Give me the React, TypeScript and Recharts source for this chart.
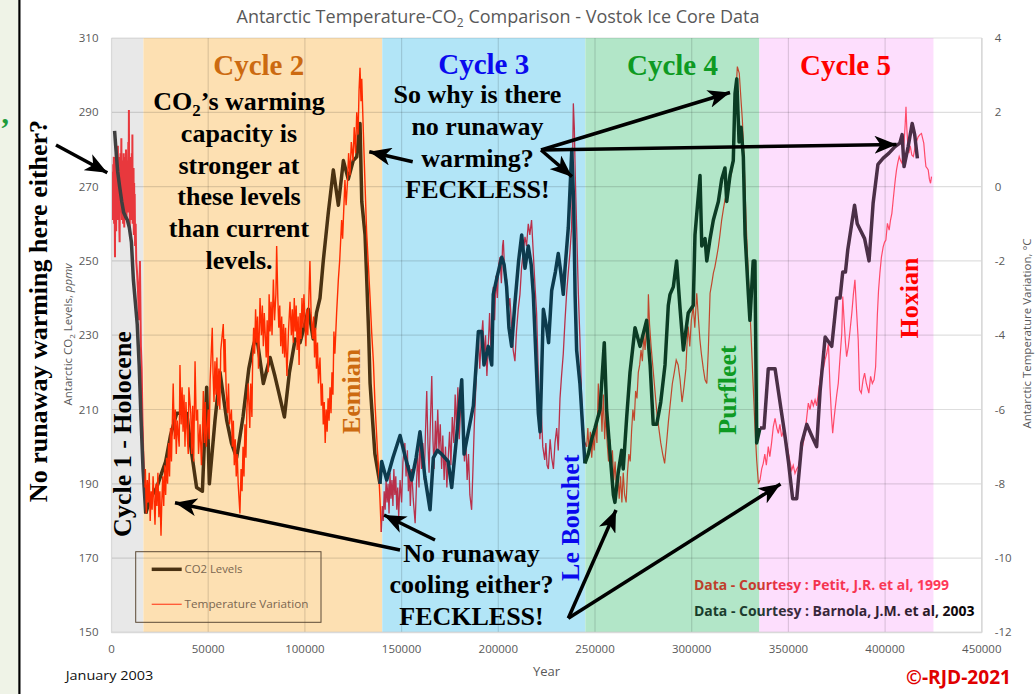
import React from "react";
import { CartesianGrid, ComposedChart, Line, ReferenceArea, XAxis, YAxis } from "recharts";

// years are in thousands of years before present
const xTicks = [0, 50000, 100000, 150000, 200000, 250000, 300000, 350000, 400000, 450000];
const co2Ticks = [150, 170, 190, 210, 230, 250, 270, 290, 310];
const tempTicks = [-12, -10, -8, -6, -4, -2, 0, 2, 4];
const cycleBounds = [0, 16.5, 140, 245, 335, 425];

// CO2, ppmv
const co2Cycle1 = [
  [1.6, 285], [2.3, 280], [3.2, 274], [4.2, 270], [5.3, 266], [6.3, 263], [7.2, 262], [8.2, 261], [9.2, 259],
  [10.3, 255], [11.3, 245], [12.3, 239], [13.3, 233], [14.3, 222], [15.3, 207], [16.3, 194], [17.7, 182]
];
const co2Cycle2 = [
  [17.7, 182], [20, 186], [23.4, 189], [26, 193], [28, 196], [30.5, 203], [33.7, 209], [36, 209], [38.9, 209],
  [41.5, 198], [44, 189], [47, 188], [49.2, 216], [50.6, 190], [53.5, 207], [56.1, 220], [59.6, 207], [62, 201],
  [64.7, 197], [68, 208], [71, 221], [73.3, 227], [75, 230], [78.5, 217], [82, 224], [84.5, 219], [86.3, 215],
  [89.4, 208], [92, 220], [95, 229], [97.5, 228], [100, 233], [101.8, 237], [104.3, 229], [106, 236], [107.8, 240],
  [109.5, 250], [110.5, 255], [112.1, 263], [114.7, 274.5], [117.3, 265], [119.9, 277], [122.4, 272], [125, 277],
  [126.8, 278], [128.5, 287], [129.4, 266], [131.1, 257], [131.9, 246], [133, 230], [133.7, 217], [135.4, 204],
  [136.2, 198], [138.8, 190]
];
const co2Cycle3 = [
  [138.8, 190], [139.7, 196], [142.3, 191], [145.5, 197], [149.2, 203], [152, 197], [155.2, 191], [157.5, 197],
  [159.5, 204], [162, 192], [164.7, 183], [166.4, 197], [168.5, 199], [170.7, 198], [174.1, 196], [175.9, 189],
  [178.5, 203], [181.1, 218], [182.3, 198], [184.5, 204], [187.1, 211], [189.7, 231], [191.4, 231], [192.6, 222],
  [194.8, 227], [196.6, 222], [197.4, 241], [199.5, 246], [201.8, 251], [203, 249], [204.3, 243], [205.5, 232],
  [206.9, 227], [208.5, 238], [210.5, 250], [212.1, 257], [213.8, 248], [215.5, 254], [217, 249], [218.1, 241],
  [219.8, 220], [220.7, 209], [221.6, 204], [223.3, 237], [225, 232], [226, 228], [227.6, 242], [229.5, 247],
  [231, 252], [232.3, 247], [233.6, 241], [234.5, 248], [236.2, 259], [238, 280], [239, 265], [239.7, 241],
  [240.5, 226], [242.2, 217], [244, 202], [244.8, 195.5]
];
const co2Cycle4 = [
  [244.8, 195.5], [246.5, 198], [248.3, 202], [250, 205], [252.6, 210], [254.8, 228], [256, 210], [257.8, 198],
  [259.5, 187], [260.3, 185], [262, 193], [263.8, 199], [264.6, 194], [266.4, 208], [268.1, 220], [270.7, 232],
  [273.3, 227], [276.7, 234], [278.5, 222], [280.1, 206], [281.9, 206], [284, 212], [286.2, 222], [287.9, 238],
  [288.8, 241], [290.5, 243], [292.2, 250], [294, 237], [295.7, 226], [298.2, 236], [300.8, 238], [301.7, 257],
  [304.3, 273], [305.2, 254], [306.9, 256], [307.8, 250], [309.5, 256], [311.2, 261], [313.8, 266], [315.5, 272],
  [317.2, 275], [318.1, 266], [319.8, 273], [321.5, 277], [322.4, 295], [323.3, 299], [324.5, 282], [325.5, 286],
  [326.7, 278], [327.6, 257], [329.3, 241], [330.1, 234], [331.8, 250], [332.7, 250], [333.6, 201], [335.3, 205]
];
const co2Cycle5 = [
  [335.3, 205], [337.4, 205], [339.6, 221], [343.1, 221], [346.5, 209], [348.2, 203], [350, 196], [352.2, 186],
  [354.3, 186], [356.9, 201], [359.5, 206], [362, 203], [364.6, 200], [366.4, 215], [369, 229.5], [372.4, 227],
  [375, 240], [376.7, 240], [378.1, 247], [379.5, 247], [380.7, 253], [384.2, 265], [385.6, 260], [389.4, 256],
  [391.7, 250], [393.8, 265.5], [396.3, 276], [398.9, 277.6], [402, 279], [405, 280.7], [407.6, 281.7],
  [408.8, 284], [409.8, 275.4], [411.9, 280.7], [414, 287], [415.3, 284], [416.7, 277.6]
];

// temperature variation, degrees C
const tempCycle1 = [
  [0.3, 0.2], [0.45, -0.6], [0.6, 0.4], [0.75, -0.9], [0.9, 0.6], [1.05, -0.3], [1.2, 0.8], [1.35, -1.0],
  [1.5, 0.3], [1.65, -0.5], [1.8, -1.9], [1.95, 0.5], [2.1, -0.7], [2.25, 0.9], [2.4, -1.2], [2.55, 0.1],
  [2.7, 0.7], [2.85, -0.8], [3.0, 0.4], [3.15, -0.4], [3.3, 1.1], [3.45, -0.9], [3.6, 0.2], [3.75, -0.6],
  [3.9, 0.8], [4.05, -1.1], [4.2, -1.5], [4.35, 0.5], [4.5, -0.3], [4.65, 0.9], [4.8, -0.7], [4.95, 0.3],
  [5.1, 1.3], [5.25, -0.5], [5.4, -0.9], [5.55, 0.6], [5.7, -0.2], [5.85, 0.7], [6.0, -1.0], [6.15, 0.2],
  [6.3, 0.9], [6.45, -0.6], [6.6, -1.1], [6.75, 0.4], [6.9, -0.3], [7.05, 0.8], [7.2, -0.8], [7.35, 0.3],
  [7.5, 1.0], [7.65, -0.5], [7.8, -0.9], [7.95, 0.6], [8.1, -0.2], [8.25, 0.7], [8.4, -0.7], [8.55, 0.4],
  [8.7, 1.2], [8.85, -0.4], [9.0, 2.06], [9.15, -0.6], [9.3, 0.5], [9.45, -1.1], [9.6, 0.8], [9.75, -0.3],
  [9.9, 0.5], [10.05, -0.9], [10.2, 0.6], [10.35, -0.5], [10.5, 0.9], [10.65, -0.7], [10.8, 1.4], [10.95, -1.0],
  [11.1, 0.3], [11.25, -0.6], [11.4, 0.5], [11.55, -1.3], [11.7, 0.1], [11.85, -0.8], [12.0, -0.2],
  [12.2, -1.6], [12.5, -1.0], [12.8, -2.0], [13.2, -2.3], [13.7, -2.8], [14.2, -3.6], [14.7, -2.0],
  [15.2, -4.3], [15.6, -4.9], [16.0, -6.2], [16.4, -7.1], [16.9, -7.8], [17.3, -8.1]
];
const tempCycle2 = [
  [17.3, -8.1], [17.5, -7.6], [18, -8.8], [18.5, -7.9], [19, -8.5], [19.5, -7.7], [20, -9.0], [20.5, -8.2],
  [21, -8.7], [21.5, -7.8], [22, -8.4], [22.5, -9.1], [23, -8.0], [23.5, -8.6], [24, -7.7], [24.5, -8.9],
  [25, -8.2], [25.6, -9.4], [26, -8.5], [26.5, -7.8], [27, -8.6], [27.5, -7.5], [28, -8.3], [28.5, -7.3],
  [29, -8.0], [29.5, -6.9], [30, -7.8], [30.5, -6.5], [31, -7.4], [31.9, -5.3], [32.5, -6.8], [33, -6.0],
  [33.5, -7.2], [34, -6.3], [35, -7.0], [35.4, -4.8], [36, -6.4], [36.5, -5.4], [37, -6.6], [37.5, -5.6],
  [38, -7.0], [38.5, -5.8], [39, -6.5], [39.7, -7.2], [40, -5.4], [41, -6.1], [41.5, -7.2], [42, -5.9],
  [42.5, -7.4], [43.2, -4.7], [43.8, -6.3], [44.5, -6.0], [45, -7.2], [45.8, -6.4], [46.5, -7.5], [47, -6.6],
  [47.5, -5.5], [48, -6.9], [48.5, -5.8], [49, -7.0], [50, -6.0], [50.5, -6.8], [51, -5.2], [52.1, -3.8],
  [52.5, -5.0], [53, -5.8], [53.5, -4.7], [54, -5.6], [54.5, -4.6], [55, -5.9], [55.5, -4.9], [56, -6.0],
  [56.5, -4.4], [57.8, -3.7], [58.3, -5.0], [58.7, -4.1], [59.3, -5.5], [60, -6.1], [60.5, -5.3], [61, -6.4],
  [62, -6.0], [62.5, -7.0], [63, -6.3], [63.5, -7.5], [64, -6.8], [64.5, -7.8], [65, -7.2], [65.5, -8.0],
  [66.4, -8.8], [67, -7.6], [67.5, -8.2], [68, -7.0], [68.5, -7.8], [69, -6.4], [69.5, -7.3], [70, -6.0],
  [70.7, -5.3], [71.5, -6.5], [72, -5.3], [72.6, -6.2], [73, -4.6], [73.5, -3.8], [74, -4.5], [74.5, -3.3],
  [75, -4.2], [75.5, -3.5], [76, -4.9], [76.8, -3.0], [77.5, -4.0], [78, -3.2], [78.5, -4.3], [79, -3.4],
  [80, -4.6], [80.5, -3.6], [81, -5.0], [81.5, -2.9], [82, -3.9], [82.5, -3.1], [83, -4.0], [83.7, -2.5],
  [84.3, -3.6], [85, -2.9], [85.4, -1.6], [86, -3.0], [86.5, -3.8], [87, -3.2], [87.5, -4.3], [88, -3.5],
  [88.5, -4.5], [89, -3.7], [89.5, -4.6], [90, -3.8], [90.7, -5.1], [91.5, -3.9], [92.3, -3.1], [93, -4.0],
  [93.5, -3.3], [94, -4.2], [94.5, -3.0], [95, -3.9], [95.5, -3.2], [96, -4.4], [96.5, -3.5], [97, -4.8],
  [97.5, -3.4], [98, -4.1], [98.5, -3.0], [99, -3.8], [99.5, -2.9], [100, -3.6], [100.5, -4.3], [101, -3.3],
  [101.5, -4.0], [102, -3.1], [102.6, -2.0], [103.2, -3.4], [104, -4.1], [104.5, -3.5], [105, -4.6],
  [105.5, -3.8], [106, -4.9], [106.5, -4.2], [107, -5.3], [107.8, -4.6], [108.5, -5.9], [109, -5.3],
  [109.5, -6.4], [110, -5.8], [110.5, -6.9], [111, -6.0], [111.5, -6.6], [112, -5.7], [112.5, -6.3],
  [113, -5.4], [113.5, -6.1], [114, -5.0], [114.5, -5.6], [115, -3.9], [115.5, -4.5], [116.4, -3.4],
  [117.3, -2.5], [118, -1.98], [119, -0.9], [119.5, -1.4], [120.7, 0.18], [121.3, -0.5], [122, 0.1],
  [122.6, 0.9], [123.3, 0.3], [124, 1.2], [124.9, 0.7], [125.5, 1.6], [126.2, 0.9], [126.8, 2.0], [127.5, 1.4],
  [128, 2.6], [128.5, 3.2], [129, 2.3], [129.4, 2.9], [130.2, 1.5], [131, 0.2], [131.9, -1.2], [132.8, -2.1],
  [133.7, -3.0], [134.5, -3.9], [135.4, -4.7], [136.2, -5.8], [137, -6.6], [137.5, -7.1], [138, -7.5],
  [138.8, -8.4], [139.5, -9.3]
];
const tempCycle3 = [
  [139.5, -9.3], [140, -8.6], [140.5, -9.0], [141, -8.2], [141.5, -8.7], [142, -7.9], [142.5, -8.5], [143, -8.0],
  [143.5, -8.8], [144, -7.7], [144.5, -8.4], [145, -7.9], [145.5, -8.6], [146, -7.6], [146.5, -8.3], [147, -7.8],
  [147.5, -8.7], [148, -8.1], [148.5, -8.9], [149.2, -7.9], [150, -8.5], [150.7, -7.4], [151.7, -6.9],
  [152.3, -7.8], [153, -7.1], [153.5, -8.2], [154, -7.5], [154.5, -8.6], [155.2, -7.6], [156, -8.4],
  [157, -9.06], [157.7, -8.0], [158.3, -7.2], [159, -8.1], [159.5, -6.8], [160.3, -7.6], [161, -6.9],
  [161.7, -7.9], [162.3, -6.7], [163, -5.5], [163.6, -6.9], [164.2, -7.7], [164.8, -6.5], [165.6, -5.1],
  [166.2, -6.8], [166.8, -7.6], [167.5, -6.3], [168, -7.2], [168.7, -6.0], [169.3, -7.1], [170, -6.4],
  [170.7, -7.6], [171.3, -6.7], [172, -7.9], [172.7, -7.0], [173.4, -8.1], [174.1, -7.3], [174.8, -6.6],
  [175.5, -7.5], [176.2, -6.2], [177, -6.9], [177.7, -5.6], [178.4, -6.5], [179.1, -5.4], [179.8, -6.8],
  [180.5, -6.0], [181.1, -5.2], [181.8, -6.6], [182.5, -7.4], [183.2, -6.8], [183.9, -7.9], [184.6, -7.2],
  [185.3, -8.3], [186.2, -8.7], [186.9, -7.6], [187.6, -6.4], [188.3, -5.5], [189, -4.7], [189.7, -3.95],
  [190.4, -4.9], [191.1, -4.2], [192, -3.6], [192.7, -4.6], [193.4, -4.0], [194.1, -5.1], [194.8, -4.3],
  [195.5, -3.4], [196.2, -4.4], [196.9, -3.2], [197.4, -2.7], [198.1, -3.6], [198.8, -2.4], [199.5, -3.0],
  [200.2, -2.1], [200.9, -1.9], [201.6, -2.6], [202.2, -1.6], [202.6, -1.44], [203.3, -2.3], [204.3, -2.5],
  [205.2, -3.3], [206, -3.0], [206.9, -3.8], [207.7, -4.4], [208.6, -4.7], [209.4, -3.9], [210.3, -3.3],
  [211.2, -2.9], [212, -2.2], [212.8, -1.8], [213.8, -1.35], [214.6, -1.6], [215.5, -1.0], [216.3, -1.3],
  [217.2, -0.9], [218.1, -1.8], [219, -2.7], [219.8, -3.4], [220.4, -4.5], [221, -5.7], [221.5, -6.8],
  [222.2, -6.0], [223, -7.0], [224, -7.36], [224.6, -6.9], [225.2, -7.5], [225.9, -7.6], [226.8, -6.8],
  [227.6, -7.3], [228.5, -7.6], [229.3, -6.9], [230.2, -6.5], [231, -7.1], [231.9, -5.7], [232.7, -5.1],
  [233.6, -4.5], [234.5, -3.6], [235.3, -2.9], [236.2, -2.3], [237, -1.8], [237.9, -1.1], [238.4, 0.5],
  [238.8, 2.24], [239.3, 1.6], [239.8, 0.3], [240.5, -1.1], [241.4, -2.9], [242.2, -4.1], [243.1, -5.7],
  [244, -6.8], [245.7, -7.0]
];
const tempCycle4 = [
  [245.7, -7.0], [246.3, -6.5], [247, -7.2], [247.6, -6.6], [248.3, -7.3], [249, -6.7], [249.6, -7.1],
  [250.3, -6.4], [251, -6.9], [251.7, -5.3], [252.3, -6.2], [253, -5.7], [253.6, -6.6], [254.3, -5.6],
  [255, -6.8], [255.6, -6.1], [256.3, -6.9], [257, -7.4], [257.7, -6.8], [258.4, -7.6], [259, -7.1],
  [259.7, -7.9], [260.4, -7.4], [261.1, -8.2], [261.8, -7.6], [262.5, -8.4], [263.2, -7.8], [263.9, -8.5],
  [264.6, -7.7], [265.3, -8.3], [266.1, -8.5], [266.8, -7.7], [267.5, -7.2], [268.2, -7.4], [268.9, -6.6],
  [269.6, -6.0], [270.3, -6.3], [271, -5.5], [271.7, -5.7], [272.4, -5.0], [273.1, -4.8], [273.8, -4.4],
  [274.5, -4.7], [275.2, -4.0], [275.9, -4.4], [276.6, -3.8], [277.2, -4.2], [277.6, -2.9], [278.2, -3.7],
  [279, -4.3], [280, -4.9], [281, -5.5], [282, -6.1], [283, -6.5], [284, -6.9], [285, -7.2], [286, -7.45],
  [287, -6.9], [288, -6.3], [289, -5.8], [290, -5.3], [291, -5.0], [292, -4.67], [293, -4.8], [294, -5.2],
  [295, -5.8], [296, -5.4], [297, -4.9], [297.6, -4.2], [298.2, -3.77], [299, -4.3], [299.8, -3.6],
  [300.8, -3.23], [301.6, -3.8], [302.6, -2.87], [303.4, -3.5], [304.2, -4.1], [305, -4.5], [306, -4.9],
  [306.9, -5.2], [307.8, -5.3], [308.6, -4.4], [309.5, -2.87], [310.4, -2.6], [311.2, -2.33], [312, -2.16],
  [312.9, -1.9], [313.8, -1.62], [314.6, -1.3], [315.5, -0.9], [316.4, -0.6], [317.2, -0.36], [318.1, -0.18],
  [319.3, 0.0], [319.8, 0.18], [320.7, 0.4], [321.5, 0.72], [322.4, 2.06], [323.6, 3.23], [324.6, 3.05],
  [325.5, 2.33], [326.2, 1.79], [327.1, 0.72], [328.1, -0.9], [329.3, -2.43], [330.5, -3.77], [331.5, -5.0],
  [332.7, -6.46], [333.6, -7.36], [334.5, -8.0], [335.3, -7.9]
];
const tempCycle5 = [
  [335.3, -7.9], [336.2, -7.6], [337, -7.45], [337.8, -7.2], [338.6, -7.5], [339.6, -7.0], [340.4, -7.27],
  [341.3, -6.9], [342.2, -6.46], [343.1, -6.24], [344, -6.5], [344.8, -6.64], [345.6, -6.4], [346.5, -6.73],
  [347.3, -6.6], [348.2, -6.82], [349.1, -6.9], [350, -7.18], [350.8, -7.4], [351.7, -7.63], [352.5, -7.5],
  [353.4, -7.72], [354.3, -7.6], [355.1, -7.54], [356, -7.3], [356.9, -7.09], [357.7, -6.9], [358.6, -6.64],
  [359.5, -6.2], [360.3, -5.83], [361.2, -6.0], [362, -5.74], [362.9, -5.9], [363.8, -5.74], [364.6, -5.9],
  [365.5, -5.56], [366.4, -5.2], [367.2, -4.85], [368.1, -4.9], [368.9, -4.67], [369.8, -4.5], [370.7, -4.22],
  [371.5, -5.38], [372.3, -6.2], [372.9, -6.64], [373.5, -6.3], [374.1, -6.01], [375, -5.6], [375.8, -5.29],
  [376.7, -4.6], [377.6, -3.95], [378.1, -2.96], [378.8, -3.6], [379.5, -4.2], [380.1, -4.58], [381, -4.3],
  [381.9, -3.86], [382.8, -3.4], [383.6, -2.9], [384.4, -2.51], [385.2, -3.3], [386.1, -4.13], [386.8, -5.47],
  [387.7, -5.56], [388.6, -5.2], [389.4, -5.02], [390.3, -5.3], [391.6, -5.56], [392.5, -5.11], [393.4, -5.3],
  [394.3, -5.2], [395.1, -4.85], [396, -3.45], [396.6, -2.8], [397.3, -2.33], [398.1, -1.9], [399, -1.62],
  [399.7, -1.5], [400.4, -1.44], [401.2, -0.99], [402.1, -1.17], [402.8, -0.9], [403.5, -0.72], [404.1, -0.4],
  [404.7, -0.09], [405.3, 0.2], [405.9, 0.45], [406.6, 0.65], [407.3, 0.81], [408, 0.7], [408.7, 0.63],
  [409.3, 0.9], [409.9, 1.25], [410.4, 1.7], [410.8, 2.15], [411.2, 1.6], [411.6, 1.25], [412.3, 0.9],
  [413, 1.1], [413.8, 0.85], [414.6, 0.81], [415.3, 1.0], [415.9, 1.17], [416.5, 1.25], [417.1, 1.34],
  [418, 1.4], [418.8, 1.43], [419.4, 1.3], [420, 1.17], [420.6, 0.8], [421.1, 0.54], [421.7, 0.5],
  [422.3, 0.45], [422.9, 0.2], [423.5, 0.09], [424, 0.27]
];

const bandColors = ["#e8e8e8", "#fde0b2", "#b2e5f7", "#b2e6c8", "#fddefd"];
const co2Colors = ["#3f3f3f", "#4a3212", "#0d3b4e", "#0b3c24", "#4b2f47"];
const tempColors = ["#e8383d", "#ff2b00", "#b9304a", "#c0472c", "#ff4a6a"];
const tempWidths = [2, 1.4, 1.3, 1.2, 1.2];

const co2Series = [co2Cycle1, co2Cycle2, co2Cycle3, co2Cycle4, co2Cycle5];
const tempSeries = [tempCycle1, tempCycle2, tempCycle3, tempCycle4, tempCycle5];

const serif = '"Liberation Serif", "Times New Roman", serif';
const sans = '"Open Sans", "Liberation Sans", sans-serif';
const tickStyle = { fill: "#595959", fontSize: 11.5, fontFamily: sans };

const toRows = (pts: number[][]) => pts.map(([k, v]) => ({ year: k * 1000, value: v }));

function Note({ x, y, lines, color = "#000", size = 26, gap = 31.8 }: { x: number; y: number; lines: React.ReactNode[]; color?: string; size?: number; gap?: number }) {
  return (
    <text x={x} y={y} fill={color} fontFamily={serif} fontWeight="bold" fontSize={size} textAnchor="middle">
      {lines.map((l, i) => (
        <tspan key={i} x={x} y={y + i * gap}>{l}</tspan>
      ))}
    </text>
  );
}

function Vert({ x, y, text, color = "#000", size = 26 }: { x: number; y: number; text: string; color?: string; size?: number }) {
  return (
    <text transform={`translate(${x},${y}) rotate(-90)`} fill={color} fontFamily={serif} fontWeight="bold" fontSize={size} textAnchor="middle">
      {text}
    </text>
  );
}

function Arrow({ x1, y1, x2, y2 }: { x1: number; y1: number; x2: number; y2: number }) {
  return <line x1={x1} y1={y1} x2={x2} y2={y2} stroke="#000" strokeWidth={3.5} markerEnd="url(#ah)" />;
}

function Overlay() {
  return (
    <svg width={1035} height={694} style={{ position: "absolute", left: 0, top: 0, pointerEvents: "none" }}>
      <defs>
        <marker id="ah" markerUnits="userSpaceOnUse" markerWidth={24} markerHeight={18} refX={22} refY={9} orient="auto">
          <path d="M0,0 L22,9 L0,18 L6,9 Z" fill="#000" />
        </marker>
        <linearGradient id="petit" gradientUnits="userSpaceOnUse" x1={694} x2={949} y1={0} y2={0}>
          <stop offset="0" stopColor="#b8402a" />
          <stop offset="0.26" stopColor="#c83a2e" />
          <stop offset="0.34" stopColor="#f0304a" />
          <stop offset="1" stopColor="#ff3a5a" />
        </linearGradient>
        <linearGradient id="barnola" gradientUnits="userSpaceOnUse" x1={694} x2={975} y1={0} y2={0}>
          <stop offset="0" stopColor="#163d2a" />
          <stop offset="0.25" stopColor="#1f3a30" />
          <stop offset="0.35" stopColor="#3b2a40" />
          <stop offset="0.8" stopColor="#2a1e2c" />
          <stop offset="1" stopColor="#000" />
        </linearGradient>
      </defs>

      <rect x={0} y={0} width={18} height={694} fill="#eff3e7" />
      <rect x={18.3} y={0} width={2.2} height={694} fill="#000" />
      <text x={0} y={138} fill="#1e9b3c" fontFamily={serif} fontWeight="bold" fontSize={30}>’</text>

      <text x={498} y={22.7} fill="#595959" fontFamily={sans} fontSize={18} textAnchor="middle">
        Antarctic Temperature-CO<tspan fontSize={12} dy={4}>2</tspan><tspan dy={-4}> Comparison - Vostok Ice Core Data</tspan>
      </text>

      <text transform="translate(71.5,334.5) rotate(-90)" fill="#595959" fontFamily={sans} fontSize={11.5} textAnchor="middle">
        Antarctic CO<tspan fontSize={8} dy={3}>2</tspan><tspan dy={-3}> Levels, </tspan><tspan fontStyle="italic">ppmv</tspan>
      </text>
      <text transform="translate(1031,333.5) rotate(-90)" fill="#595959" fontFamily={sans} fontSize={11.5} textAnchor="middle">
        Antarctic Temperature Variation, °C
      </text>

      <text x={546.5} y={676} fill="#595959" fontFamily={sans} fontSize={13} textAnchor="middle">Year</text>
      <text x={65.7} y={679.5} fill="#111" fontFamily={sans} fontSize={13} textLength={87.6} lengthAdjust="spacingAndGlyphs">January 2003</text>
      <text x={906} y={683.5} fill="#e00000" fontFamily={sans} fontWeight="bold" fontSize={19} textLength={105} lengthAdjust="spacingAndGlyphs">©-RJD-2021</text>

      <text x={694} y={590} fill="url(#petit)" fontFamily={sans} fontWeight="bold" fontSize={13.5} textLength={255} lengthAdjust="spacingAndGlyphs">Data - Courtesy : Petit, J.R. et al, 1999</text>
      <text x={694} y={615.5} fill="url(#barnola)" fontFamily={sans} fontWeight="bold" fontSize={13.5} textLength={280.5} lengthAdjust="spacingAndGlyphs">Data - Courtesy : Barnola, J.M. et al, 2003</text>

      <rect x={135.7} y={551.7} width={185.3} height={70.6} fill="none" stroke="#5c4a36" strokeWidth={1} />
      <line x1={151.7} x2={181.7} y1={569.3} y2={569.3} stroke={co2Colors[1]} strokeWidth={3.5} />
      <text x={184.5} y={573.3} fill="#7a6650" fontFamily={sans} fontSize={11.5} textLength={58} lengthAdjust="spacingAndGlyphs">CO2 Levels</text>
      <line x1={151.7} x2={181.7} y1={604.3} y2={604.3} stroke="#ff5533" strokeWidth={1.3} />
      <text x={184.5} y={608.3} fill="#7a6650" fontFamily={sans} fontSize={11.5} textLength={124} lengthAdjust="spacingAndGlyphs">Temperature Variation</text>

      <Note x={258.7} y={75} lines={["Cycle 2"]} color="#cc6a10" size={29} />
      <Note x={483.7} y={74} lines={["Cycle 3"]} color="#0a0aee" size={29} />
      <Note x={672.5} y={75} lines={["Cycle 4"]} color="#0e9a22" size={29} />
      <Note x={845.5} y={75} lines={["Cycle 5"]} color="#ff0000" size={29} />

      <Note
        x={239}
        y={110}
        lines={[
          <>CO<tspan fontSize={17} dy={6}>2</tspan><tspan dy={-6}>’s warming</tspan></>,
          "capacity is",
          "stronger at",
          "these levels",
          "than current",
          "levels."
        ]}
      />
      <Note x={477.5} y={103.3} lines={["So why is there", "no runaway", "warming?", "FECKLESS!"]} gap={31.7} />
      <Note x={471.5} y={561.7} lines={["No runaway", "cooling either?", "FECKLESS!"]} gap={31.7} />

      <Vert x={47} y={311} text="No runaway warming here either?" />
      <Vert x={131} y={434} text="Cycle 1 - Holocene" />
      <Vert x={359.5} y={391.5} text="Eemian" color="#cc6a10" />
      <Vert x={579} y={517.7} text="Le Bouchet" color="#0a0aee" />
      <Vert x={736} y={390} text="Purfleet" color="#0e9a22" />
      <Vert x={918} y={298} text="Hoxian" color="#ff0000" />

      <Arrow x1={56} y1={145} x2={107.3} y2={172.7} />
      <Arrow x1={412.7} y1={161.7} x2={369.3} y2={151.7} />
      <Arrow x1={541} y1={150} x2={572} y2={176.7} />
      <Arrow x1={541} y1={150} x2={730} y2={92.5} />
      <Arrow x1={541} y1={150} x2={896.5} y2={144.5} />
      <Arrow x1={400} y1={550} x2={175} y2={502.7} />
      <Arrow x1={435} y1={540} x2={384} y2={515} />
      <Arrow x1={568.3} y1={618.3} x2={616} y2={510} />
      <Arrow x1={568.3} y1={618.3} x2={780.5} y2={484} />
    </svg>
  );
}

export default function App() {
  const order = [0, 1, 2, 3, 4];
  return (
    <div style={{ position: "absolute", left: 0, top: 0, width: 1035, height: 694, background: "#fff" }}>
      <ComposedChart width={1035} height={694} margin={{ top: 38, right: 8.2, bottom: 31.6, left: 51.5 }}>
        {bandColors.map((fill, i) => (
          <ReferenceArea
            key={"band" + i}
            x1={cycleBounds[i] * 1000}
            x2={cycleBounds[i + 1] * 1000}
            yAxisId="co2"
            fill={fill}
            fillOpacity={1}
            stroke="none"
            ifOverflow="hidden"
            zIndex={50}
          />
        ))}
        <CartesianGrid yAxisId="co2" stroke="#000" strokeOpacity={0.13} strokeWidth={1.2} zIndex={150} />
        <XAxis
          dataKey="year"
          type="number"
          domain={[0, 450000]}
          ticks={xTicks}
          interval={0}
          allowDataOverflow
          tick={tickStyle}
          tickLine={false}
          tickSize={0}
          tickMargin={12.5}
          axisLine={{ stroke: "#d9d9d9", strokeWidth: 1.5 }}
          height={30}
        />
        <YAxis
          yAxisId="co2"
          type="number"
          domain={[150, 310]}
          ticks={co2Ticks}
          interval={0}
          allowDataOverflow
          tick={tickStyle}
          tickLine={false}
          tickSize={0}
          tickMargin={13}
          axisLine={{ stroke: "#d9d9d9" }}
          width={60}
        />
        <YAxis
          yAxisId="temp"
          orientation="right"
          type="number"
          domain={[-12, 4]}
          ticks={tempTicks}
          interval={0}
          allowDataOverflow
          tick={{ ...tickStyle, textAnchor: "start" }}
          tickLine={false}
          tickSize={0}
          tickMargin={13}
          axisLine={{ stroke: "#d9d9d9", strokeWidth: 1.5 }}
          width={45}
        />
        {order.map((i) => {
          const temp = (
            <Line
              key={"t" + i}
              data={toRows(tempSeries[i])}
              dataKey="value"
              yAxisId="temp"
              type="linear"
              stroke={tempColors[i]}
              strokeWidth={tempWidths[i]}
              dot={false}
              activeDot={false}
              isAnimationActive={false}
            />
          );
          const co2 = (
            <Line
              key={"c" + i}
              data={toRows(co2Series[i])}
              dataKey="value"
              yAxisId="co2"
              type="linear"
              stroke={co2Colors[i]}
              strokeWidth={3.5}
              strokeLinejoin="round"
              dot={false}
              activeDot={false}
              isAnimationActive={false}
            />
          );
          return i === 1 ? [co2, temp] : [temp, co2];
        })}
      </ComposedChart>
      <Overlay />
    </div>
  );
}
